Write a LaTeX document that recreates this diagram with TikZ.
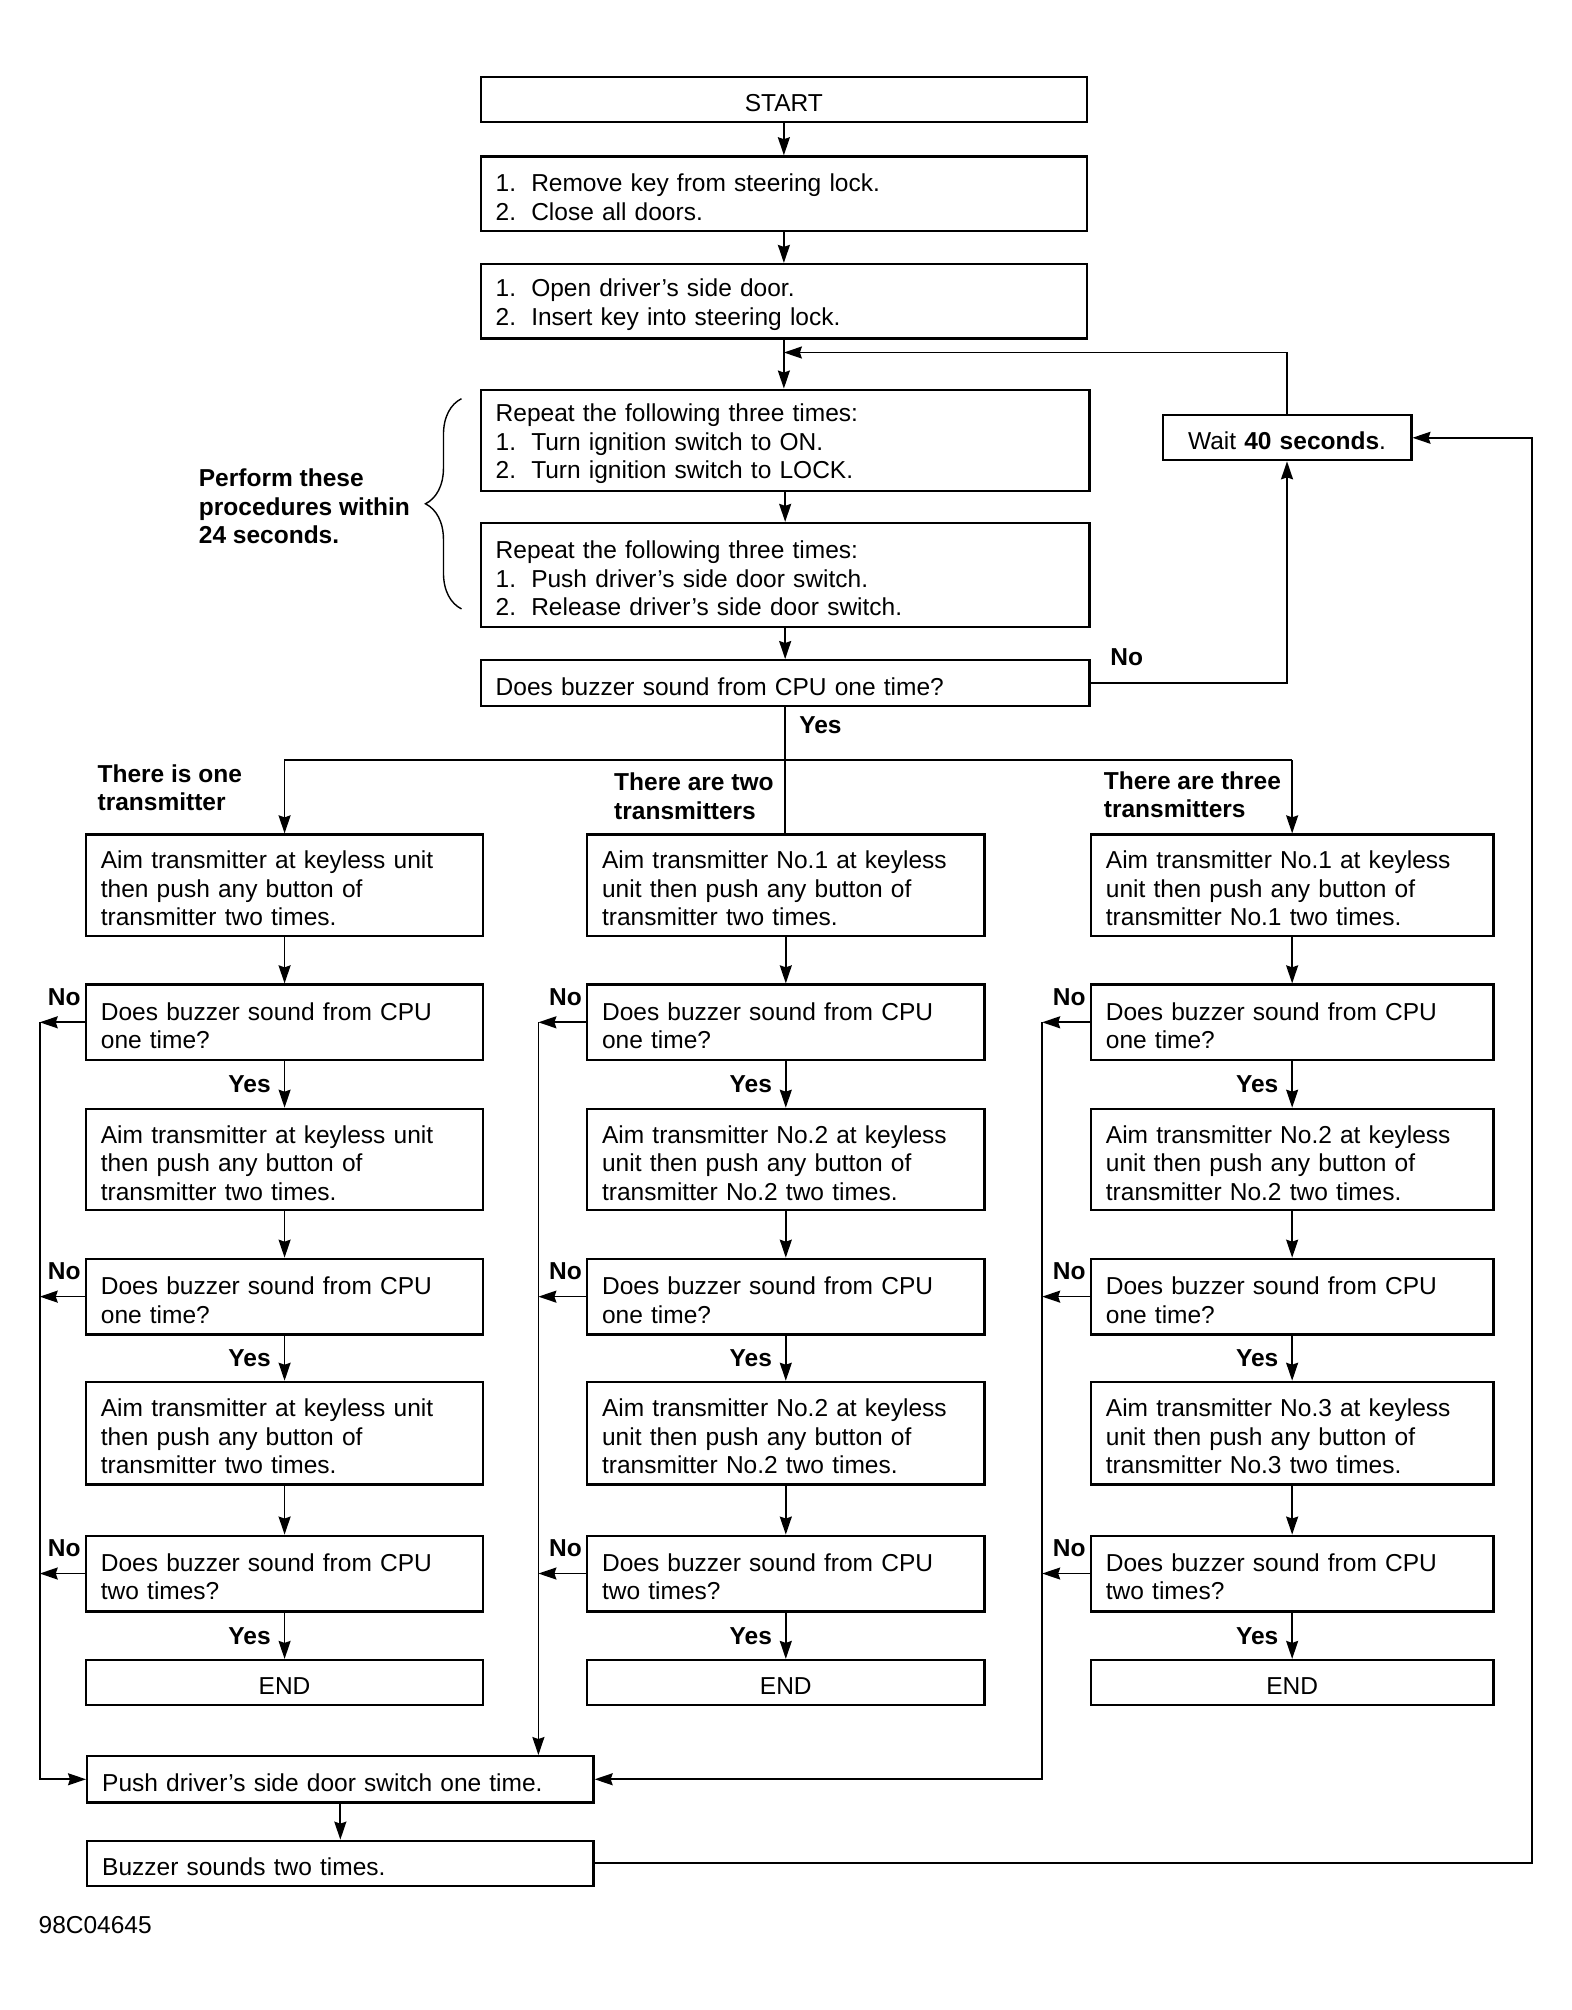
\documentclass[tikz,border=0pt]{standalone}
\usepackage{fontspec}
\setmainfont{Liberation Sans}
\usetikzlibrary{arrows.meta,decorations.pathreplacing}
\tikzset{
 boxst/.style={draw, line width=2.3pt, inner xsep=15pt, inner ysep=2pt, font=\fontsize{24.5}{28.6}\selectfont, align=left},
 cbox/.style={boxst, align=center},
 conn/.style={line width=1.7pt},
 arr/.style={conn, -{Stealth[length=18pt,width=12pt,inset=2pt]}},
 lbl/.style={font=\fontsize{24.5}{28.6}\selectfont\bfseries, inner sep=0pt, align=left},
}
\newcommand\numit[1]{\makebox[1.45em][l]{#1}}
\newcommand\mkbox[7]{%
 \pgfmathsetmacro\bw{(#5-#3)*1.2814}%
 \pgfmathsetmacro\bh{(#6-#4)*1.2814}%
 \pgfmathsetmacro\tw{\bw-30}%
 \node[#1, minimum width=\bw pt, minimum height=\bh pt, text width=\tw pt] (#2) at ({(#3+#5)/2},{(#4+#6)/2}) {\rule{0pt}{24.5pt}#7};%
}
\begin{document}
\begin{tikzpicture}[x=1.2814pt,y=-1.2814pt]
\fill[white] (0,0) rectangle (1226,1568);
\useasboundingbox (0,0) rectangle (1226,1568);
% top chain
\mkbox{cbox}{start}{375}{60}{848}{95}{START}
\mkbox{boxst}{rem}{375}{122}{848}{180}{\numit{1.}Remove key from steering lock.\\\numit{2.}Close all doors.}
\mkbox{boxst}{open}{375}{206}{848}{264}{\numit{1.}Open driver’s side door.\\\numit{2.}Insert key into steering lock.}
\mkbox{boxst}{ign}{375}{304}{850}{383}{Repeat the following three times:\\\numit{1.}Turn ignition switch to ON.\\\numit{2.}Turn ignition switch to LOCK.}
\mkbox{boxst}{dsw}{375}{408}{850}{489}{Repeat the following three times:\\\numit{1.}Push driver’s side door switch.\\\numit{2.}Release driver’s side door switch.}
\mkbox{boxst}{dec}{375}{515}{850}{551}{Does buzzer sound from CPU one time?}
\mkbox{cbox}{wait}{907}{324}{1101}{359}{Wait \textbf{40 seconds}.}
\draw[arr] (start.south) -- (start.south |- rem.north);
\draw[arr] (rem.south) -- (rem.south |- open.north);
\draw[arr] (open.south) -- (open.south |- ign.north);
\coordinate (lj) at (611.5,275);
\draw[arr] (wait.north) |- (lj);
\draw[arr] (ign.south) -- (ign.south |- dsw.north);
\draw[arr] (dsw.south) -- (dsw.south |- dec.north);
\draw[arr] (dec.east) -| (wait.south);
\node[lbl] (no0) at (879,513) {No};
\node[lbl] (yes0) at (640,566) {Yes};
% brace
\draw[conn, line width=1.4pt, decorate, decoration={brace, amplitude=36pt}] (360,475) -- (360,311);
\node[lbl, anchor=west] (perf) at (155,395) {Perform these\\procedures within\\24 seconds.};
% columns
\mkbox{boxst}{lA}{67}{651}{377}{730}{Aim transmitter at keyless unit\\then push any button of\\transmitter two times.}
\mkbox{boxst}{lB}{67}{768}{377}{827}{Does buzzer sound from CPU\\one time?}
\mkbox{boxst}{lC}{67}{865}{377}{944}{Aim transmitter at keyless unit\\then push any button of\\transmitter two times.}
\mkbox{boxst}{lD}{67}{982}{377}{1041}{Does buzzer sound from CPU\\one time?}
\mkbox{boxst}{lE}{67}{1078}{377}{1158}{Aim transmitter at keyless unit\\then push any button of\\transmitter two times.}
\mkbox{boxst}{lF}{67}{1198}{377}{1257}{Does buzzer sound from CPU\\two times?}
\mkbox{cbox}{lG}{67}{1295}{377}{1330}{END}
\mkbox{boxst}{mA}{458}{651}{768}{730}{Aim transmitter No.1 at keyless\\unit then push any button of\\transmitter two times.}
\mkbox{boxst}{mB}{458}{768}{768}{827}{Does buzzer sound from CPU\\one time?}
\mkbox{boxst}{mC}{458}{865}{768}{944}{Aim transmitter No.2 at keyless\\unit then push any button of\\transmitter No.2 two times.}
\mkbox{boxst}{mD}{458}{982}{768}{1041}{Does buzzer sound from CPU\\one time?}
\mkbox{boxst}{mE}{458}{1078}{768}{1158}{Aim transmitter No.2 at keyless\\unit then push any button of\\transmitter No.2 two times.}
\mkbox{boxst}{mF}{458}{1198}{768}{1257}{Does buzzer sound from CPU\\two times?}
\mkbox{cbox}{mG}{458}{1295}{768}{1330}{END}
\mkbox{boxst}{rA}{851}{651}{1165}{730}{Aim transmitter No.1 at keyless\\unit then push any button of\\transmitter No.1 two times.}
\mkbox{boxst}{rB}{851}{768}{1165}{827}{Does buzzer sound from CPU\\one time?}
\mkbox{boxst}{rC}{851}{865}{1165}{944}{Aim transmitter No.2 at keyless\\unit then push any button of\\transmitter No.2 two times.}
\mkbox{boxst}{rD}{851}{982}{1165}{1041}{Does buzzer sound from CPU\\one time?}
\mkbox{boxst}{rE}{851}{1078}{1165}{1158}{Aim transmitter No.3 at keyless\\unit then push any button of\\transmitter No.3 two times.}
\mkbox{boxst}{rF}{851}{1198}{1165}{1257}{Does buzzer sound from CPU\\two times?}
\mkbox{cbox}{rG}{851}{1295}{1165}{1330}{END}
% branch
\coordinate (hy) at (0,593);
\draw[conn] (dec.south) -- (dec.south |- mA.north);
\draw[arr] (hy -| rA.north) -- (hy -| lA.north) -- (lA.north);
\draw[arr] (hy -| rA.north) -- (rA.north);
\node[lbl, anchor=west] (t1) at (76,614.5) {There is one\\transmitter};
\node[lbl, anchor=west] (t2) at (479,621) {There are two\\transmitters};
\node[lbl, anchor=west] (t3) at (861,620) {There are three\\transmitters};
% column arrows
\foreach \c in {l,m,r}{
 \draw[arr] (\c A.south) -- (\c A.south |- \c B.north);
 \draw[arr] (\c B.south) -- (\c B.south |- \c C.north) node[lbl, midway, left=13pt] {Yes};
 \draw[arr] (\c C.south) -- (\c C.south |- \c D.north);
 \draw[arr] (\c D.south) -- (\c D.south |- \c E.north) node[lbl, midway, left=13pt] {Yes};
 \draw[arr] (\c E.south) -- (\c E.south |- \c F.north);
 \draw[arr] (\c F.south) -- (\c F.south |- \c G.north) node[lbl, midway, left=13pt] {Yes};
 \foreach \r in {B,D,F}{
  \node[lbl, anchor=east] at ([xshift=-4pt,yshift=25pt]\c\r.west) {No};
 }
}
\coordinate (vl) at (31,0);
\coordinate (vm) at (420,0);
\coordinate (vr) at (813,0);
\coordinate (vrr) at (1195,0);
\foreach \r in {B,D,F}{
 \draw[arr] (l\r.west) -- (l\r.west -| vl);
 \draw[arr] (m\r.west) -- (m\r.west -| vm);
 \draw[arr] (r\r.west) -- (r\r.west -| vr);
}
% bottom
\mkbox{boxst}{push}{68}{1370}{463}{1406}{Push driver’s side door switch one time.}
\mkbox{boxst}{buz}{68}{1436}{463}{1471}{Buzzer sounds two times.}
\draw[arr] (lB.west -| vl) -- (vl |- push.west) -- (push.west);
\draw[arr] (mB.west -| vm) -- (vm |- push.north);
\draw[arr] (rB.west -| vr) -- (vr |- push.east) -- (push.east);
\draw[arr] (push.south) -- (push.south |- buz.north);
\draw[arr] (buz.east) -- (buz.east -| vrr) -- (vrr |- wait.east) -- (wait.east);
\node[font=\fontsize{24.5}{28.6}\selectfont, inner sep=0pt, anchor=west] (code) at (30,1502) {98C04645};
\end{tikzpicture}
\end{document}
